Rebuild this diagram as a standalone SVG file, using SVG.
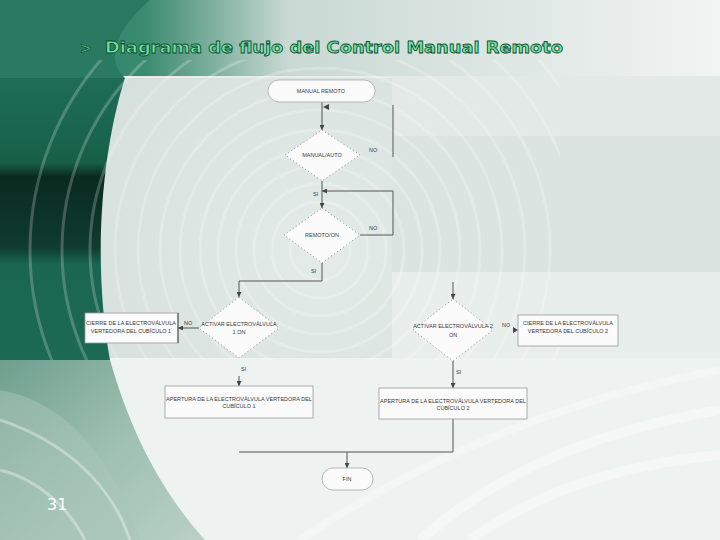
<svg xmlns="http://www.w3.org/2000/svg" width="720" height="540" viewBox="0 0 720 540">
<defs>
<style>
.lbl{font-family:"Liberation Sans",Arial,sans-serif;font-size:5.5px;fill:#3a3a3a;text-anchor:middle}
.yn{font-family:"Liberation Sans",Arial,sans-serif;font-size:5.5px;fill:#3a3a3a}
.dia{fill:#fbfbfb;stroke:#888;stroke-width:0.8;stroke-dasharray:1.2 2.5}
.box{fill:#fbfbfb;stroke:#9a9a9a;stroke-width:0.8}
.ter{fill:#fbfbfb;stroke:#a8a8a8;stroke-width:0.8}
.con{fill:none;stroke:#555;stroke-width:1}
.ring{fill:none;stroke:#ffffff;stroke-width:3;opacity:0.22}
</style>
<marker id="ah" viewBox="0 0 6 6" refX="6" refY="3" markerWidth="5" markerHeight="5" markerUnits="userSpaceOnUse" orient="auto">
<path d="M0,0 L6,3 L0,6 z" fill="#444"/>
</marker>
<linearGradient id="top" x1="0" y1="0" x2="1" y2="0">
<stop offset="0" stop-color="#2e7f66"/>
<stop offset="0.2" stop-color="#3a8a70"/>
<stop offset="0.4" stop-color="#c9d9d3"/>
<stop offset="1" stop-color="#f2f4f3"/>
</linearGradient>
<linearGradient id="dark" x1="0" y1="0" x2="0" y2="1">
<stop offset="0" stop-color="#1f6d55"/>
<stop offset="0.3" stop-color="#176048"/>
<stop offset="0.35" stop-color="#0a2a20"/>
<stop offset="0.6" stop-color="#0f3b2d"/>
<stop offset="0.66" stop-color="#1a6650"/>
<stop offset="1" stop-color="#1d6a52"/>
</linearGradient>
<linearGradient id="low" x1="0" y1="0" x2="1" y2="1">
<stop offset="0" stop-color="#6f9f8e"/>
<stop offset="0.5" stop-color="#9dbfb2"/>
<stop offset="1" stop-color="#b9d0c7"/>
</linearGradient>
<radialGradient id="disc" cx="320" cy="250" r="330" gradientUnits="userSpaceOnUse">
<stop offset="0" stop-color="#e4ebe8"/>
<stop offset="0.7" stop-color="#d7e1dd"/>
<stop offset="1" stop-color="#cfdad6"/>
</radialGradient>
<clipPath id="clipRings"><rect x="0" y="60" width="560" height="300"/></clipPath>
</defs>

<g id="background">
<rect x="0" y="0" width="720" height="540" fill="#e8edeb"/>
<rect x="0" y="0" width="720" height="76" fill="url(#top)"/>
<path d="M0,0 L150,0 C115,30 105,60 125,78 L0,78 z" fill="#2a7a61"/>
<rect x="100" y="78" width="292" height="282" fill="url(#disc)"/>
<rect x="392" y="76" width="328" height="60" fill="#e3e9e6"/>
<rect x="392" y="136" width="328" height="136" fill="#dce4e1"/>
<rect x="392" y="272" width="328" height="88" fill="#e8eeeb"/>
<rect x="0" y="358" width="720" height="182" fill="#eef2f0"/>
<path d="M0,78 L125,78 C102,150 92,260 110,360 L0,360 z" fill="url(#dark)"/>
<path d="M0,360 L110,360 C130,430 160,490 205,540 L0,540 z" fill="url(#low)"/>
<path d="M0,390 C60,400 110,450 140,540 L0,540 z" fill="#a9c5ba" opacity="0.5"/>
<g clip-path="url(#clipRings)">
<circle class="ring" cx="320" cy="250" r="30"/>
<circle class="ring" cx="320" cy="250" r="48"/>
<circle class="ring" cx="320" cy="250" r="66"/>
<circle class="ring" cx="320" cy="250" r="84"/>
<circle class="ring" cx="320" cy="250" r="102"/>
<circle class="ring" cx="320" cy="250" r="120"/>
<circle class="ring" cx="320" cy="250" r="140"/>
<circle class="ring" cx="320" cy="250" r="160"/>
<circle class="ring" cx="320" cy="250" r="182"/>
<circle class="ring" cx="320" cy="250" r="205"/>
<circle class="ring" cx="320" cy="250" r="230"/>
<circle class="ring" cx="320" cy="250" r="258"/>
<circle class="ring" cx="320" cy="250" r="290"/>
</g>
<path d="M420,540 C500,470 600,430 720,410" fill="none" stroke="#ffffff" stroke-width="10" opacity="0.4"/>
<path d="M470,540 C540,490 620,465 720,455" fill="none" stroke="#ffffff" stroke-width="10" opacity="0.4"/>
<path d="M300,540 C420,460 560,400 720,370" fill="none" stroke="#ffffff" stroke-width="8" opacity="0.3"/>
<path d="M0,420 C60,440 110,480 130,540" fill="none" stroke="#ffffff" stroke-width="3" opacity="0.35"/>
<path d="M0,470 C40,480 70,510 85,540" fill="none" stroke="#ffffff" stroke-width="3" opacity="0.35"/>
</g>

<g id="title">
<text x="80" y="53" font-family="DejaVu Sans,sans-serif" font-weight="bold" font-size="14" fill="#6de69a" stroke="#0f4a36" stroke-width="0.8">&gt;</text>
<text x="105" y="53" font-family="DejaVu Sans,sans-serif" font-weight="bold" font-size="16" fill="#6de69a" stroke="#0f4a36" stroke-width="0.8" textLength="458" lengthAdjust="spacingAndGlyphs">Diagrama de flujo del Control Manual Remoto</text>
</g>
<text x="47" y="510" font-family="DejaVu Sans,sans-serif" font-size="16" fill="#ffffff">31</text>

<g id="connectors">
<line class="con" x1="322" y1="102" x2="322" y2="130" marker-end="url(#ah)"/>
<path d="M323,107 L329,104 L329,110 z" fill="#444"/>
<line class="con" x1="393" y1="105" x2="393" y2="157"/>
<line class="con" x1="322" y1="181" x2="322" y2="208" marker-end="url(#ah)"/>
<polyline class="con" points="360,235 393,235 393,191 322,191" marker-end="url(#ah)"/>
<polyline class="con" points="322,263 322,281 239,281 239,297" marker-end="url(#ah)"/>
<line class="con" x1="199" y1="328" x2="178" y2="328" marker-end="url(#ah)"/>
<line class="con" x1="239" y1="376" x2="239" y2="386" marker-end="url(#ah)"/>
<line class="con" x1="453" y1="282" x2="453" y2="299" marker-end="url(#ah)"/>
<path d="M518,330 L513,327 L513,333 z" fill="#444"/>
<line class="con" x1="453" y1="361" x2="453" y2="388" marker-end="url(#ah)"/>
<polyline class="con" points="453,419 453,452 239,452" stroke="#888"/>
<line class="con" x1="347" y1="452" x2="347" y2="468" marker-end="url(#ah)"/>
</g>

<g id="n-inicio">
<rect class="ter" x="268" y="80" width="107" height="22" rx="11"/>
<text class="lbl" x="321" y="93">MANUAL REMOTO</text>
</g>
<g id="n-manual-auto">
<polygon class="dia" points="322,130 360,155 322,181 285,155"/>
<text class="lbl" x="322" y="157">MANUAL/AUTO</text>
<text class="yn" x="369" y="152">NO</text>
<text class="yn" x="313" y="196">SI</text>
</g>
<g id="n-remoto">
<polygon class="dia" points="322,208 360,235 322,263 284,235"/>
<text class="lbl" x="322" y="237">REMOTO/ON</text>
<text class="yn" x="369" y="230">NO</text>
<text class="yn" x="311" y="273">SI</text>
</g>
<g id="n-ev1">
<polygon class="dia" points="239,297 279,328 239,358 199,328"/>
<text class="lbl" x="239" y="326">ACTIVAR ELECTROVÁLVULA</text>
<text class="lbl" x="239" y="334">1 ON</text>
<text class="yn" x="184" y="325">NO</text>
<text class="yn" x="241" y="371">SI</text>
</g>
<g id="n-cierre1">
<rect class="box" x="85" y="313" width="93" height="30"/>
<line x1="178" y1="313" x2="178" y2="343" stroke="#444" stroke-width="1"/>
<text class="lbl" x="131" y="325">CIERRE DE LA ELECTROVÁLVULA</text>
<text class="lbl" x="131" y="333">VERTEDORA DEL CUBÍCULO 1</text>
</g>
<g id="n-apertura1">
<rect class="box" x="165" y="386" width="148" height="32"/>
<text class="lbl" x="239" y="401">APERTURA DE LA ELECTROVÁLVULA VERTEDORA DEL</text>
<text class="lbl" x="239" y="408">CUBÍCULO 1</text>
</g>
<g id="n-ev2">
<polygon class="dia" points="453,299 493,330 453,361 413,330"/>
<text class="lbl" x="453" y="328">ACTIVAR ELECTROVÁLVULA 2</text>
<text class="lbl" x="453" y="337">ON</text>
<text class="yn" x="502" y="327">NO</text>
<text class="yn" x="456" y="374">SI</text>
</g>
<g id="n-cierre2">
<rect class="box" x="518" y="315" width="100" height="31"/>
<text class="lbl" x="568" y="325">CIERRE DE LA ELECTROVÁLVULA</text>
<text class="lbl" x="568" y="333">VERTEDORA DEL CUBÍCULO 2</text>
</g>
<g id="n-apertura2">
<rect class="box" x="379" y="388" width="148" height="31"/>
<text class="lbl" x="453" y="403">APERTURA DE LA ELECTROVÁLVULA VERTEDORA DEL</text>
<text class="lbl" x="453" y="410">CUBÍCULO 2</text>
</g>
<g id="n-fin">
<rect class="ter" x="322" y="468" width="51" height="22" rx="11"/>
<text class="lbl" x="347" y="481">FIN</text>
</g>
</svg>
